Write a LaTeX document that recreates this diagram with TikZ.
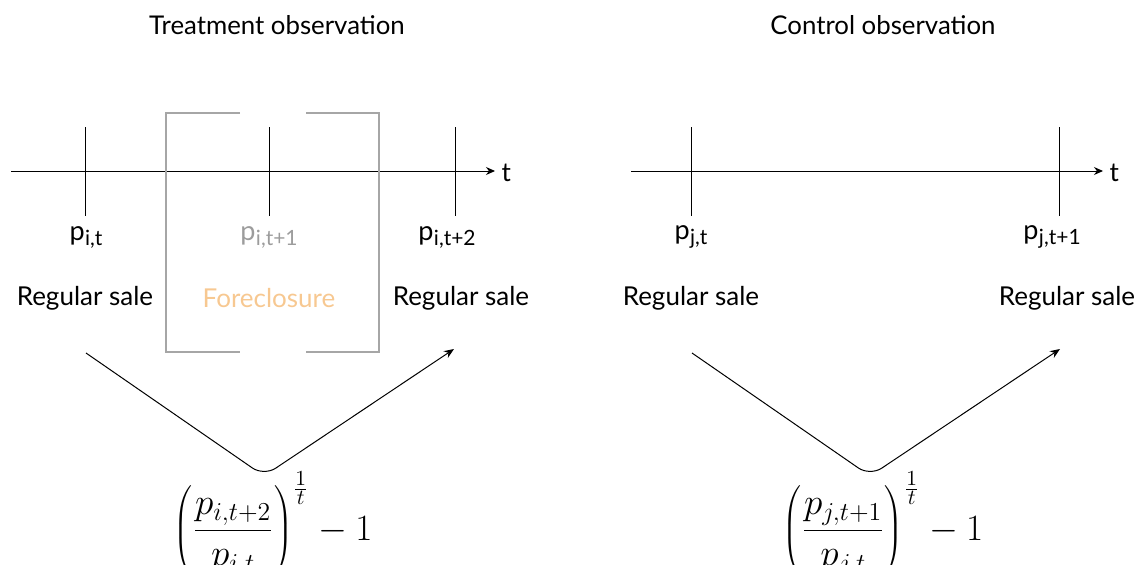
\documentclass[tikz,border=0pt]{standalone}
\usepackage{fontspec}
\setmainfont{Lato}
\usetikzlibrary{arrows.meta}
\definecolor{brgray}{HTML}{A6A6A6}
\definecolor{txgray}{HTML}{9C9C9C}
\definecolor{fcorange}{HTML}{F7C891}
\newcommand{\psub}[1]{p\kern0.5pt\raisebox{-5pt}{\fontsize{21}{21}\selectfont #1}}
\tikzset{
  title/.style={font=\fontsize{25.8}{28}\selectfont},
  lbl/.style={font=\fontsize{26}{28}\selectfont},
  plbl/.style={font=\fontsize{27}{28}\selectfont},
  axis/.style={line width=1pt,-{Stealth[length=9pt,width=8pt]}},
  tick/.style={line width=1pt},
  brk/.style={draw=brgray,line width=2.4pt},
  vpath/.style={line width=1pt,rounded corners=14pt,-{Stealth[length=10pt,width=8pt]}},
  formula/.style={font=\fontsize{17.28}{20}\selectfont,scale=2.15,transform shape}
}
\begin{document}
\begin{tikzpicture}[x=1pt,y=-1pt]
\useasboundingbox (0,0) rectangle (1136,565);
% ---------- left panel ----------
\node[title] (tL) at (277,25) {Treatment observation};
\coordinate (axLs) at (11,171);
\coordinate (axLe) at (495,171);
\draw[axis] (axLs) -- (axLe);
\node[lbl,anchor=west] (tLt) at (498,173) {t};
\coordinate (kL1a) at (85,127); \coordinate (kL1b) at (85,216);
\coordinate (kL2a) at (269,127); \coordinate (kL2b) at (269,216);
\coordinate (kL3a) at (455,127); \coordinate (kL3b) at (455,216);
\draw[tick] (kL1a) -- (kL1b);
\draw[tick] (kL2a) -- (kL2b);
\draw[tick] (kL3a) -- (kL3b);
% bracket
\coordinate (bTl) at (240,113); \coordinate (bTL) at (166,113);
\coordinate (bBL) at (166,352); \coordinate (bBl) at (240,352);
\coordinate (bTr) at (306,113); \coordinate (bTR) at (379,113);
\coordinate (bBR) at (379,352); \coordinate (bBr) at (306,352);
\draw[brk] (bTl) -- (bTL) -- (bBL) -- (bBl);
\draw[brk] (bTr) -- (bTR) -- (bBR) -- (bBr);
\node[plbl] (pL1) at (86,237) {\psub{i,t}};
\node[plbl,text=txgray] (pL2) at (269,237) {\psub{i,t+1}};
\node[plbl] (pL3) at (447,237) {\psub{i,t+2}};
\node[lbl] (rL1) at (85,298) {Regular sale};
\node[lbl,text=fcorange] (fL) at (269,298) {Foreclosure};
\node[lbl] (rL2) at (461,298) {Regular sale};
\coordinate (vLs) at (86,353);
\coordinate (vLv) at (264,476);
\coordinate (vLe) at (454,349);
\draw[vpath] (vLs) -- (vLv) -- (vLe);
\node[formula,anchor=base] (fmL) at (273,540) {$\displaystyle \left(\frac{p_{i,t+2}}{p_{i,t}}\right)^{\frac{1}{t}}-1$};
% ---------- right panel ----------
\node[title] (tR) at (883,25) {Control observation};
\coordinate (axRs) at (631,171);
\coordinate (axRe) at (1103,171);
\draw[axis] (axRs) -- (axRe);
\node[lbl,anchor=west] (tRt) at (1106,173) {t};
\coordinate (kR1a) at (691,127); \coordinate (kR1b) at (691,216);
\coordinate (kR2a) at (1059,127); \coordinate (kR2b) at (1059,216);
\draw[tick] (kR1a) -- (kR1b);
\draw[tick] (kR2a) -- (kR2b);
\node[plbl] (pR1) at (691,237) {\psub{j,t}};
\node[plbl] (pR2) at (1052,237) {\psub{j,t+1}};
\node[lbl] (rR1) at (691,298) {Regular sale};
\node[lbl] (rR2) at (1067,298) {Regular sale};
\coordinate (vRs) at (692,353);
\coordinate (vRv) at (870,476);
\coordinate (vRe) at (1060,349);
\draw[vpath] (vRs) -- (vRv) -- (vRe);
\node[formula,anchor=base] (fmR) at (883,540) {$\displaystyle \left(\frac{p_{j,t+1}}{p_{j,t}}\right)^{\frac{1}{t}}-1$};
\end{tikzpicture}
\end{document}
